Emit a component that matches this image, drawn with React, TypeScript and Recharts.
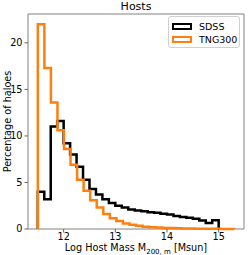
import { LineChart, Line, XAxis, YAxis, Label, ReferenceArea } from "recharts";

// histogram bins (percentage of haloes per bin)
const binStart = 11.5;
const sdssBinWidth = 0.125;
const tngBinWidth = 3.8 / 30;

const sdssPct = [
  4.0, 3.2, 11.0, 11.6, 9.2, 8.0, 6.7, 5.3, 4.3, 3.7, 3.2, 2.8, 2.5, 2.3,
  2.1, 2.0, 1.9, 1.8, 1.75, 1.65, 1.55, 1.4, 1.3, 1.2, 1.1, 0.9, 0.65, 0.95,
];
const tngPct = [
  22.0, 17.3, 13.6, 10.6, 8.6, 6.9, 5.3, 4.1, 3.1, 2.3, 1.6, 1.15, 0.85, 0.6,
  0.45, 0.35, 0.25, 0.2, 0.15, 0.12, 0.1, 0.08, 0.06, 0.05, 0.04, 0.03, 0.02,
  0.02, 0.01, 0.01,
];

const xTicks = [12, 13, 14, 15];
const yTicks = [0, 5, 10, 15, 20];
const xDomain = [11.31, 15.49];
const yDomain = [0, 23.1];

const seriesNames = ["SDSS", "TNG300"];
const seriesColors = ["#000000", "#ff7f0e"];

const FONT = "DejaVu Sans";

function stepPoints(start: number, width: number, vals: number[]) {
  const pts = [{ x: start, y: 0 }];
  vals.forEach((v, i) => pts.push({ x: start + i * width, y: v }));
  pts.push({ x: start + vals.length * width, y: 0 });
  return pts;
}

const sdssSteps = stepPoints(binStart, sdssBinWidth, sdssPct);
const tngSteps = stepPoints(binStart, tngBinWidth, tngPct);

const LegendBox = () => (
  <div
    style={{
      position: "absolute",
      left: 168,
      top: 16,
      width: 72,
      height: 32,
      boxSizing: "border-box",
      border: "1px solid #d0d0d0",
      borderRadius: 3,
      background: "rgba(255,255,255,0.8)",
      fontFamily: FONT,
      fontSize: 9.5,
      padding: "3px 0 0 3px",
    }}
  >
    {seriesNames.map((name, i) => (
      <div key={name} style={{ display: "flex", alignItems: "center", height: 13 }}>
        <div
          style={{
            width: 20,
            height: 7,
            boxSizing: "border-box",
            border: `2.5px solid ${seriesColors[i]}`,
            marginRight: 7,
          }}
        />
        <span>{name}</span>
      </div>
    ))}
  </div>
);

const XLabel = (props: any) => {
  const vb = props.viewBox;
  return (
    <text
      x={vb.x + vb.width / 2}
      y={251}
      textAnchor="middle"
      fontFamily={FONT}
      fontSize={9.7}
      fill="#000"
    >
      Log Host Mass M
      <tspan fontSize={7} dy={2.5}>200, m</tspan>
      <tspan dy={-2.5}> [Msun]</tspan>
    </text>
  );
};

const YLabel = () => (
  <text
    x={7}
    y={121.5}
    transform="rotate(-90 7 121.5)"
    textAnchor="middle"
    dominantBaseline="central"
    fontFamily={FONT}
    fontSize={9.7}
    fill="#000"
  >
    Percentage of haloes
  </text>
);

export default function App() {
  return (
    <div style={{ position: "absolute", left: 0, top: 0, width: 249, height: 255 }}>
      <div
        style={{
          position: "absolute",
          left: 0,
          width: 272,
          top: 0,
          textAlign: "center",
          fontFamily: FONT,
          fontSize: 11,
          lineHeight: "14px",
        }}
      >
        Hosts
      </div>
      <LineChart width={249} height={255} margin={{ top: 14, right: 5, bottom: 0, left: 0 }}>
        <XAxis
          type="number"
          dataKey="x"
          height={26}
          domain={xDomain}
          ticks={xTicks}
          axisLine={false}
          tickSize={3.5}
          tickMargin={1}
          tickLine={{ stroke: "#666" }}
          tick={{ fontFamily: FONT, fontSize: 9.7, fill: "#000" }}
          allowDuplicatedCategory={false}
        >
          <Label content={XLabel} />
        </XAxis>
        <YAxis
          type="number"
          dataKey="y"
          width={28}
          domain={yDomain}
          ticks={yTicks}
          axisLine={false}
          tickSize={3.5}
          tickMargin={2}
          tickLine={{ stroke: "#666" }}
          tick={{ fontFamily: FONT, fontSize: 9.7, fill: "#000" }}
        >
          <Label content={YLabel} />
        </YAxis>
        <ReferenceArea
          x1={xDomain[0]}
          x2={xDomain[1]}
          y1={yDomain[0]}
          y2={yDomain[1]}
          fill="none"
          stroke="#808080"
          strokeWidth={1}
        />
        <Line
          data={sdssSteps}
          dataKey="y"
          name={seriesNames[0]}
          type="stepAfter"
          stroke={seriesColors[0]}
          strokeWidth={2.5}
          strokeLinejoin="miter"
          dot={false}
          isAnimationActive={false}
        />
        <Line
          data={tngSteps}
          dataKey="y"
          name={seriesNames[1]}
          type="stepAfter"
          stroke={seriesColors[1]}
          strokeWidth={2.5}
          strokeLinejoin="miter"
          dot={false}
          isAnimationActive={false}
        />
      </LineChart>
      <LegendBox />
    </div>
  );
}
